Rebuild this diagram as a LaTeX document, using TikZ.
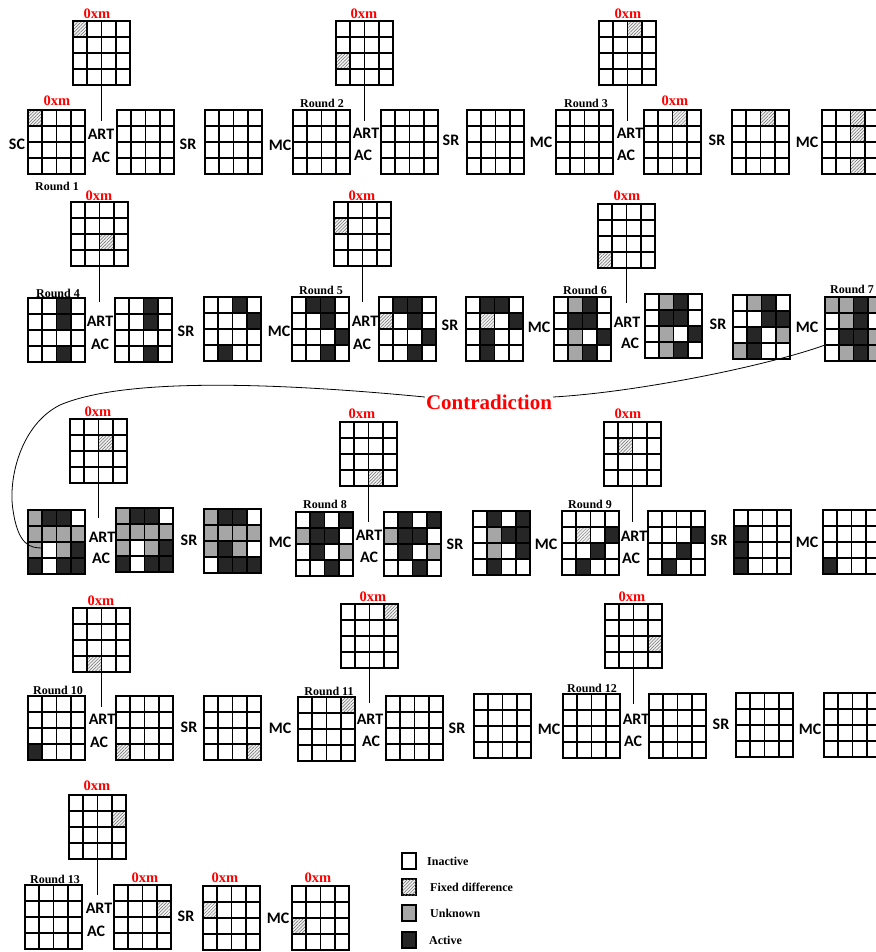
\documentclass[tikz,border=0pt]{standalone}
\usepackage{fontspec}
\setmainfont{Liberation Serif}
\newfontfamily\opfont{Carlito}
\usetikzlibrary{patterns.meta,calc}
\definecolor{unk}{HTML}{A6A6A6}
\definecolor{act}{HTML}{262626}
\definecolor{keyred}{HTML}{FF0000}
\tikzset{
 cellw/.style={fill=white},
 cellf/.style={fill=gray!10, postaction={pattern={Lines[angle=45,distance=2.3pt,line width=0.5pt]}, pattern color=gray!85!black}},
 cellg/.style={fill=unk},
 cella/.style={fill=act},
 gridbox/.style={draw, line width=1.8pt, minimum width=57pt, minimum height=64pt, inner sep=0pt, outer sep=0pt},
 gline/.style={line width=1.6pt},
 rlabel/.style={font=\bfseries\fontsize{12}{12}\selectfont, inner sep=0pt},
 klabel/.style={font=\bfseries\fontsize{14.5}{14.5}\selectfont, text=keyred, inner sep=0pt},
 oplabel/.style={font=\opfont\bfseries\fontsize{16}{16}\selectfont, inner sep=0pt},
 link/.style={line width=0.8pt},
 legbox/.style={draw, line width=1.3pt, minimum width=14pt, minimum height=16pt, inner sep=0pt},
 legtext/.style={font=\bfseries\fontsize{12}{12}\selectfont, anchor=west, inner sep=0pt},
 contra/.style={font=\bfseries\fontsize{21}{21}\selectfont, text=keyred, inner sep=0pt},
}
\newcommand\G[4]{%
  \foreach \rr/\cc/\tp in {#4} {\fill[\tp] ({#2+\cc*14.25},{#3+\rr*16}) rectangle ++(14.25,16);}
  \foreach \ii in {1,2,3} {\draw[gline] ({#2+\ii*14.25},#3) -- ++(0,64); \draw[gline] (#2,{#3+\ii*16}) -- ++(57,0);}
  \node[gridbox] (#1) at ({#2+28.5},{#3+32}) {};
}
\begin{document}
\begin{tikzpicture}[x=1pt,y=-1pt]
\useasboundingbox (0,0) rectangle (875,952);
% ---------- Row 1
\G{T1}{73}{21}{0/0/cellf}
\G{G1}{28}{110}{0/0/cellf}
\G{G2}{117}{110}{0/0/cellw}
\G{G3}{205}{110}{0/0/cellw}
\G{G4}{293}{110}{0/0/cellw}
\G{T2}{336}{21}{2/0/cellf}
\G{G5}{381}{110}{0/0/cellw}
\G{G6}{467}{110}{0/0/cellw}
\G{G7}{556}{110}{0/0/cellw}
\G{T3}{599}{21}{0/2/cellf}
\G{G8}{644}{110}{0/2/cellf}
\G{G9}{732}{110}{0/2/cellf}
\G{G10}{822}{110}{0/2/cellf,1/2/cellf,3/2/cellf}
\node[klabel] (k1) at (97,14) {0xm};
\node[klabel] (k2) at (57,101) {0xm};
\node[klabel] (k3) at (364,14) {0xm};
\node[klabel] (k4) at (628,14) {0xm};
\node[klabel] (k5) at (675,101) {0xm};
\node[oplabel] (sc1) at (17,144) {SC};
\node[rlabel] (r1) at (57,186) {Round 1};
\node[rlabel] (r2) at (322,103) {Round 2};
\node[rlabel] (r3) at (586,103) {Round 3};
\node[oplabel] (art1) at (101,134) {ART};
\node[oplabel] (ac1) at (101,157) {AC};
\node[oplabel] (art2) at (366,133) {ART};
\node[oplabel] (ac2) at (363,155) {AC};
\node[oplabel] (art3) at (630,133) {ART};
\node[oplabel] (ac3) at (626,155) {AC};
\node[oplabel] (sr1) at (188,144) {SR};
\node[oplabel] (sr2) at (451,140) {SR};
\node[oplabel] (sr3) at (717,140) {SR};
\node[oplabel] (mc1) at (280,145) {MC};
\node[oplabel] (mc2) at (541,142) {MC};
\node[oplabel] (mc3) at (807,142) {MC};
\coordinate (e1) at (98,121);
\coordinate (e2) at (364,121);
\coordinate (e3) at (630,121);
\draw[link] (T1.south) -- (T1.south |- e1);
\draw[link] (T2.south) -- (T2.south |- e2);
\draw[link] (T3.south) -- (T3.south |- e3);
% ---------- Row 2
\G{T4}{71}{202}{2/2/cellf}
\G{G11}{28}{298}{0/2/cella,1/2/cella,3/2/cella}
\G{G12}{115}{298}{0/2/cella,1/2/cella,3/2/cella}
\G{G13}{204}{297}{0/2/cella,1/3/cella,3/1/cella}
\G{G14}{292}{297}{0/1/cella,0/2/cella,1/2/cella,2/3/cella,3/2/cella}
\G{T5}{334}{202}{1/0/cellf}
\G{G15}{379}{297}{0/1/cella,0/2/cella,1/0/cellf,1/2/cella,2/3/cella,3/2/cella}
\G{G16}{466}{297}{0/1/cella,0/2/cella,1/1/cellf,1/3/cella,2/1/cella,3/1/cella}
\G{G17}{554}{297}{0/1/cellg,0/2/cella,1/1/cella,1/2/cella,2/1/cellg,2/3/cella,3/1/cellg,3/2/cella}
\G{T6}{598}{204}{3/0/cellf}
\G{G18}{645}{294}{0/1/cellg,0/2/cella,1/1/cella,1/2/cella,2/1/cellg,2/3/cella,3/1/cellg,3/2/cella}
\G{G19}{733}{295}{0/1/cellg,0/2/cella,1/2/cella,1/3/cella,2/1/cella,2/3/cellg,3/0/cellg,3/1/cella}
\G{G20}{825}{297}{0/0/cellg,0/1/cellg,0/2/cella,0/3/cellg,1/1/cellg,1/2/cella,2/1/cella,2/2/cella,2/3/cellg,3/1/cellg,3/2/cella,3/3/cellg}
\node[klabel] (k6) at (99,196) {0xm};
\node[klabel] (k7) at (362,196) {0xm};
\node[klabel] (k8) at (627,196) {0xm};
\node[rlabel] (r4) at (58,293) {Round 4};
\node[rlabel] (r5) at (321,290) {Round 5};
\node[rlabel] (r6) at (585,290) {Round 6};
\node[rlabel] (r7) at (852,289) {Round 7};
\node[oplabel] (art4) at (100,321) {ART};
\node[oplabel] (ac4) at (100,344) {AC};
\node[oplabel] (art5) at (365,321) {ART};
\node[oplabel] (ac5) at (362,344) {AC};
\node[oplabel] (art6) at (627,322) {ART};
\node[oplabel] (ac6) at (630,343) {AC};
\node[oplabel] (sr4) at (186,331) {SR};
\node[oplabel] (sr5) at (450,325) {SR};
\node[oplabel] (sr6) at (718,324) {SR};
\node[oplabel] (mc4) at (279,331) {MC};
\node[oplabel] (mc5) at (539,327) {MC};
\node[oplabel] (mc6) at (807,327) {MC};
\coordinate (e4) at (97,302);
\coordinate (e5) at (363,302);
\coordinate (e6) at (628,303);
\draw[link] (T4.south) -- (T4.south |- e4);
\draw[link] (T5.south) -- (T5.south |- e5);
\draw[link] (T6.south) -- (T6.south |- e6);
% ---------- Row 3
\G{T7}{70}{419}{1/2/cellf}
\G{G21}{28}{510}{0/0/cellg,0/1/cella,0/2/cella,1/0/cellg,1/1/cellg,1/2/cellg,1/3/cellg,2/0/cellg,2/2/cellg,2/3/cella,3/0/cella,3/2/cella,3/3/cella}
\G{G22}{116}{508}{0/0/cellg,0/1/cella,0/2/cella,1/0/cellg,1/1/cellg,1/2/cellg,1/3/cellg,2/0/cellg,2/2/cellg,2/3/cella,3/0/cella,3/2/cella,3/3/cella}
\G{G23}{204}{509}{0/0/cellg,0/1/cella,0/2/cella,1/0/cellg,1/1/cellg,1/2/cellg,1/3/cellg,2/0/cellg,2/1/cella,2/2/cellg,3/1/cella,3/2/cella,3/3/cella}
\G{G24}{296}{512}{0/1/cella,0/3/cella,1/0/cellg,1/1/cella,1/2/cella,2/1/cella,2/3/cellg,3/2/cella}
\G{T8}{340}{422}{3/2/cellf}
\G{G25}{384}{512}{0/1/cella,0/3/cella,1/0/cellg,1/1/cella,1/2/cella,2/1/cella,2/3/cellg,3/2/cella}
\G{G26}{473}{511}{0/1/cella,0/3/cella,1/1/cellg,1/2/cella,1/3/cella,2/1/cellg,2/3/cella,3/1/cella}
\G{G27}{562}{511}{1/1/cellf,1/3/cella,2/2/cella,3/1/cella}
\G{T9}{604}{422}{1/1/cellf}
\G{G28}{648}{511}{1/3/cella,2/2/cella,3/1/cella}
\G{G29}{734}{510}{1/0/cella,2/0/cella,3/0/cella}
\G{G30}{823}{510}{3/0/cella}
\node[klabel] (k9) at (98,412) {0xm};
\node[klabel] (k10) at (362,414) {0xm};
\node[klabel] (k11) at (628,414) {0xm};
\node[rlabel] (r8) at (325,504) {Round 8};
\node[rlabel] (r9) at (590,504) {Round 9};
\node[oplabel] (art7) at (102,537) {ART};
\node[oplabel] (ac7) at (101,558) {AC};
\node[oplabel] (art8) at (369,535) {ART};
\node[oplabel] (ac8) at (369,557) {AC};
\node[oplabel] (art9) at (634,536) {ART};
\node[oplabel] (ac9) at (631,558) {AC};
\node[oplabel] (sr7) at (189,540) {SR};
\node[oplabel] (sr8) at (455,544) {SR};
\node[oplabel] (sr9) at (719,540) {SR};
\node[oplabel] (mc7) at (280,542) {MC};
\node[oplabel] (mc8) at (546,544) {MC};
\node[oplabel] (mc9) at (807,542) {MC};
\coordinate (e7) at (100,518);
\coordinate (e8) at (367,522);
\coordinate (e9) at (632,522);
\draw[link] (T7.south) -- (T7.south |- e7);
\draw[link] (T8.south) -- (T8.south |- e8);
\draw[link] (T9.south) -- (T9.south |- e9);
% contradiction
\node[contra] (contra) at (489,402) {Contradiction};
\coordinate (cs) at ($(G20.north west)+(0,48)$);
\coordinate (ce) at (42,548);
\draw[link] (cs) .. controls (770,365) and (640,392) .. ($(contra.east)+(1,-5)$);
\draw[link] ($(contra.west)+(-1,-5)$) .. controls (300,385) and (130,375) .. (60,405) .. controls (20,425) and (8,480) .. (13,510) .. controls (18,545) and (30,548) .. (ce);
% ---------- Row 4
\G{T10}{73}{608}{3/1/cellf}
\G{G31}{28}{696}{3/0/cella}
\G{G32}{116}{696}{3/0/cellf}
\G{G33}{204}{696}{3/3/cellf}
\G{G34}{298}{697}{0/3/cellf}
\G{T11}{341}{604}{0/3/cellf}
\G{G35}{386}{696}{0/0/cellw}
\G{G36}{474}{694}{0/0/cellw}
\G{G37}{563}{694}{0/0/cellw}
\G{T12}{605}{604}{2/3/cellf}
\G{G38}{649}{694}{0/0/cellw}
\G{G39}{736}{693}{0/0/cellw}
\G{G40}{824}{693}{0/0/cellw}
\node[klabel] (k12) at (101,601) {0xm};
\node[klabel] (k13) at (373,597) {0xm};
\node[klabel] (k14) at (632,597) {0xm};
\node[rlabel] (r10) at (58,690) {Round 10};
\node[rlabel] (r11) at (329,691) {Round 11};
\node[rlabel] (r12) at (592,688) {Round 12};
\node[oplabel] (art10) at (102,719) {ART};
\node[oplabel] (ac10) at (99,742) {AC};
\node[oplabel] (art11) at (370,719) {ART};
\node[oplabel] (ac11) at (371,741) {AC};
\node[oplabel] (art12) at (636,719) {ART};
\node[oplabel] (ac12) at (633,741) {AC};
\node[oplabel] (sr10) at (189,727) {SR};
\node[oplabel] (sr11) at (457,728) {SR};
\node[oplabel] (sr12) at (721,724) {SR};
\node[oplabel] (mc10) at (280,728) {MC};
\node[oplabel] (mc11) at (549,729) {MC};
\node[oplabel] (mc12) at (810,729) {MC};
\coordinate (e10) at (102,707);
\coordinate (e11) at (368,703);
\coordinate (e12) at (634,704);
\draw[link] (T10.south) -- (T10.south |- e10);
\draw[link] (T11.south) -- (T11.south |- e11);
\draw[link] (T12.south) -- (T12.south |- e12);
% ---------- Row 5
\G{T13}{69}{795}{1/3/cellf}
\G{G41}{25}{885}{0/0/cellw}
\G{G42}{114}{885}{1/3/cellf}
\G{G43}{203}{886}{1/0/cellf}
\G{G44}{292}{886}{2/0/cellf}
\node[klabel] (k15) at (97,786) {0xm};
\node[klabel] (k16) at (145,878) {0xm};
\node[klabel] (k17) at (225,878) {0xm};
\node[klabel] (k18) at (318,878) {0xm};
\node[rlabel] (r13) at (55,879) {Round 13};
\node[oplabel] (art13) at (99,908) {ART};
\node[oplabel] (ac13) at (96,931) {AC};
\node[oplabel] (sr13) at (186,916) {SR};
\node[oplabel] (mc13) at (278,918) {MC};
\coordinate (e13) at (99,895);
\draw[link] (T13.south) -- (T13.south |- e13);
% ---------- Legend
\node[legbox,cellw] (lb1) at (409,861) {};
\node[legbox,cellf] (lb2) at (409,887) {};
\node[legbox,cellg] (lb3) at (409,913) {};
\node[legbox,cella] (lb4) at (409,940) {};
\node[legtext] (lt1) at (427,861) {Inactive};
\node[legtext] (lt2) at (430,887) {Fixed difference};
\node[legtext] (lt3) at (430,913) {Unknown};
\node[legtext] (lt4) at (429,940) {Active};
\end{tikzpicture}
\end{document}
